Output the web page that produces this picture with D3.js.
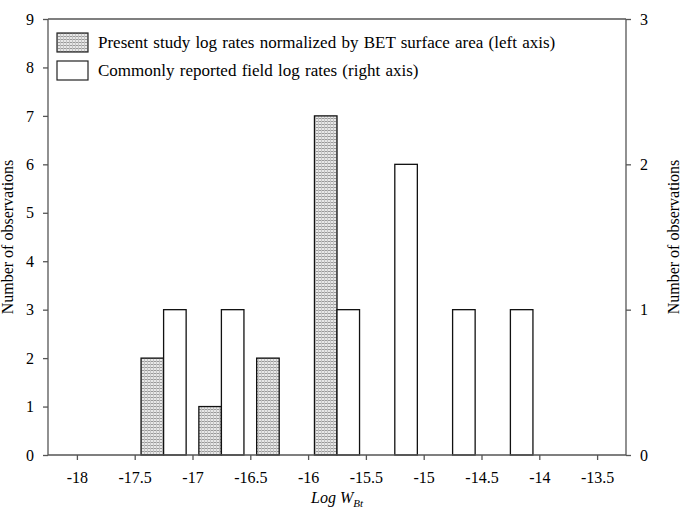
<!DOCTYPE html>
<html lang="en">
<head>
<meta charset="UTF-8"/>
<title>Log rates histogram</title>
<script src="https://d3js.org/d3.v7.min.js"></script>
<style>
  body { margin: 0; background: #fff; }
  svg text { font-family: "Liberation Serif", "Times New Roman", serif; fill: #000; }
</style>
</head>
<body>
<script>
// bin centres (log W_Bt) and counts
var presentBins = [-17.25, -16.75, -16.25, -15.75];
var presentCounts = [2, 1, 2, 7];           // left axis
var fieldBins = [-17.25, -16.75, -15.75, -15.25, -14.75, -14.25];
var fieldCounts = [1, 1, 1, 2, 1, 1];       // right axis
var xTicks = [-18, -17.5, -17, -16.5, -16, -15.5, -15, -14.5, -14, -13.5];
var leftTicks = [0, 1, 2, 3, 4, 5, 6, 7, 8, 9];
var rightTicks = [0, 1, 2, 3];
var legendLabels = ["Present study log rates normalized by BET surface area (left axis)",
                    "Commonly reported field log rates (right axis)"];

var w = 695, h = 528;
var margin = {left: 48, right: 69, top: 19, bottom: 73};
var pw = w - margin.left - margin.right;
var ph = h - margin.top - margin.bottom;
var barW = 0.195;
var serif = "'Liberation Serif', 'Times New Roman', serif";

var svg = d3.select("body").append("svg")
    .attr("width", w)
    .attr("height", h);

var defs = svg.append("defs");
var pat = defs.append("pattern")
    .attr("id", "hatch")
    .attr("patternUnits", "userSpaceOnUse")
    .attr("width", 3)
    .attr("height", 3);
pat.append("rect").attr("width", 3).attr("height", 3).attr("fill", "#e8e8e8");
pat.append("line").attr("x1", 0).attr("y1", 0.5).attr("x2", 3).attr("y2", 0.5)
    .attr("stroke", "#9a9a9a").attr("stroke-width", 1);
pat.append("line").attr("x1", 0.5).attr("y1", 0).attr("x2", 0.5).attr("y2", 3)
    .attr("stroke", "#c4c4c4").attr("stroke-width", 1);

var g = svg.append("g")
    .attr("transform", "translate(" + margin.left + "," + margin.top + ")");

var xScale = d3.scaleLinear().domain([-18.25, -13.25]).range([0, pw]);
var yLeft = d3.scaleLinear().domain([0, 9]).range([ph, 0]);
var yRight = d3.scaleLinear().domain([0, 3]).range([ph, 0]);

// hatched bars, left of bin centre
g.selectAll(".present")
    .data(presentBins)
    .enter()
    .append("rect")
    .attr("class", "present")
    .attr("x", function(d) { return xScale(d - barW); })
    .attr("y", function(d, i) { return yLeft(presentCounts[i]); })
    .attr("width", function(d) { return xScale(d) - xScale(d - barW); })
    .attr("height", function(d, i) { return yLeft(0) - yLeft(presentCounts[i]); })
    .attr("fill", "url(#hatch)")
    .attr("stroke", "#111")
    .attr("stroke-width", 1.3);

// open bars, right of bin centre
g.selectAll(".field")
    .data(fieldBins)
    .enter()
    .append("rect")
    .attr("class", "field")
    .attr("x", function(d) { return xScale(d); })
    .attr("y", function(d, i) { return yRight(fieldCounts[i]); })
    .attr("width", function(d) { return xScale(d + barW) - xScale(d); })
    .attr("height", function(d, i) { return yRight(0) - yRight(fieldCounts[i]); })
    .attr("fill", "#fff")
    .attr("stroke", "#111")
    .attr("stroke-width", 1.3);

// axes
var xAxis = d3.axisBottom(xScale).tickValues(xTicks).tickSize(5).tickPadding(12)
    .tickFormat(function(d) { return String(d); });
var lAxis = d3.axisLeft(yLeft).tickValues(leftTicks).tickSize(5).tickPadding(9)
    .tickFormat(d3.format("d"));
var rAxis = d3.axisRight(yRight).tickValues(rightTicks).tickSize(5).tickPadding(9)
    .tickFormat(d3.format("d"));

function styleAxis(sel) {
  sel.attr("font-family", serif).attr("font-size", 16);
  sel.select(".domain").attr("stroke", "#555").attr("stroke-width", 1.3);
  sel.selectAll(".tick line").attr("stroke", "#555").attr("stroke-width", 1.3);
  sel.selectAll(".tick text").attr("fill", "#000");
}

g.append("g").attr("transform", "translate(0," + ph + ")").call(xAxis)
  .call(function(s) { s.select(".domain").attr("d", "M0,0H" + pw); styleAxis(s); });
g.append("g").call(lAxis)
  .call(function(s) { s.select(".domain").attr("d", "M0," + ph + "V0"); styleAxis(s); });
g.append("g").attr("transform", "translate(" + pw + ",0)").call(rAxis)
  .call(function(s) { s.select(".domain").attr("d", "M0," + ph + "V0"); styleAxis(s); });

// top frame line
g.append("line")
    .attr("x1", 0).attr("x2", pw).attr("y1", 0).attr("y2", 0)
    .attr("stroke", "#555").attr("stroke-width", 1.3);

// axis titles
svg.append("text")
    .attr("transform", "translate(13," + (margin.top + ph / 2) + ") rotate(-90)")
    .attr("text-anchor", "middle")
    .style("font-size", "16px")
    .text("Number of observations");
svg.append("text")
    .attr("transform", "translate(679," + (margin.top + ph / 2) + ") rotate(-90)")
    .attr("text-anchor", "middle")
    .style("font-size", "16px")
    .text("Number of observations");

var xt = svg.append("text")
    .attr("x", margin.left + pw / 2)
    .attr("y", 503)
    .attr("text-anchor", "middle")
    .style("font-size", "16px")
    .style("font-style", "italic");
xt.append("tspan").text("Log W");
xt.append("tspan").attr("dy", 4).style("font-size", "11px").text("Bt");

// legend
var legend = svg.append("g").attr("transform", "translate(57,33)");
var fills = ["url(#hatch)", "#fff"];
legendLabels.forEach(function(lab, i) {
  var row = legend.append("g").attr("transform", "translate(0," + (i * 28) + ")");
  row.append("rect")
      .attr("width", 31).attr("height", 19)
      .attr("fill", fills[i])
      .attr("stroke", "#222").attr("stroke-width", 1.2);
  row.append("text")
      .attr("x", 41).attr("y", 15)
      .style("font-size", "17px")
      .style("word-spacing", "1px")
      .text(lab);
});
</script>
</body>
</html>
